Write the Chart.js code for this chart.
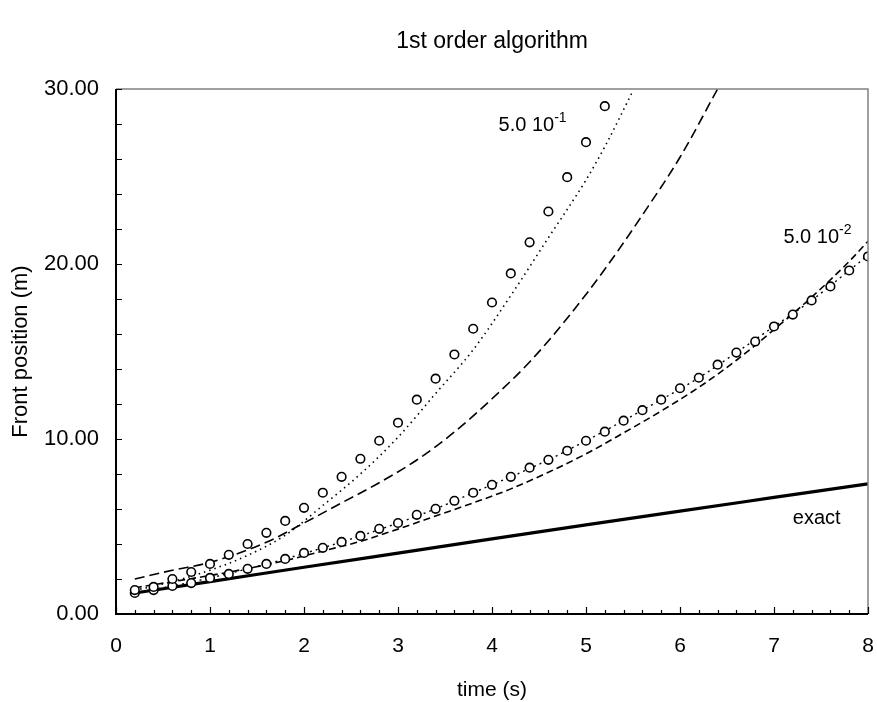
<!DOCTYPE html>
<html>
<head>
<meta charset="utf-8">
<script src="https://cdn.jsdelivr.net/npm/chart.js@4"></script>
<style>
  html, body { margin: 0; padding: 0; background: #fff; }
  #wrap { width: 877px; height: 702px; }
</style>
</head>
<body>
<div id="wrap"><canvas id="frontChart" width="877" height="702"></canvas></div>
<script>
// open circles, dt = 5.0 10^-1
const tCoarse = [0.2, 0.4, 0.6, 0.8, 1.0, 1.2, 1.4, 1.6, 1.8, 2.0, 2.2, 2.4, 2.6, 2.8, 3.0, 3.2, 3.4, 3.6, 3.8, 4.0, 4.2, 4.4, 4.6, 4.8, 5.0, 5.2];
const posCoarse = [1.37, 1.55, 2.0, 2.4, 2.86, 3.38, 4.0, 4.64, 5.32, 6.07, 6.93, 7.84, 8.87, 9.9, 10.93, 12.25, 13.45, 14.83, 16.3, 17.8, 19.46, 21.24, 23.0, 24.96, 26.96, 29.02];

// open circles, dt = 5.0 10^-2
const tFine = [0.2, 0.4, 0.6, 0.8, 1.0, 1.2, 1.4, 1.6, 1.8, 2.0, 2.2, 2.4, 2.6, 2.8, 3.0, 3.2, 3.4, 3.6, 3.8, 4.0,
               4.2, 4.4, 4.6, 4.8, 5.0, 5.2, 5.4, 5.6, 5.8, 6.0, 6.2, 6.4, 6.6, 6.8, 7.0, 7.2, 7.4, 7.6, 7.8, 8.0];
const posFine = [1.2, 1.37, 1.6, 1.77, 2.06, 2.29, 2.58, 2.86, 3.15, 3.49, 3.78, 4.12, 4.46, 4.87, 5.2, 5.67, 6.01, 6.47, 6.93, 7.38,
                 7.84, 8.36, 8.81, 9.33, 9.9, 10.42, 11.05, 11.65, 12.25, 12.9, 13.5, 14.25, 14.94, 15.57, 16.43, 17.11, 17.92, 18.72, 19.63, 20.43];

// dotted curve next to the coarse circles
const tDotCoarse = [0.2, 0.6, 1.0, 1.4, 1.8, 2.2, 2.6, 3.0, 3.4, 3.8, 4.2, 4.6, 5.0, 5.2, 5.5];
const dotCoarse = [1.35, 1.85, 2.5, 3.35, 4.5, 6.2, 8.0, 10.1, 12.6, 15.1, 18.2, 21.5, 24.8, 26.7, 29.9];

// long dashes
const tLongDash = [0.2, 0.6, 1.0, 1.6, 2.0, 2.4, 2.8, 3.2, 3.6, 4.0, 4.4, 4.8, 5.2, 5.6, 6.0, 6.4];
const longDash = [2.0, 2.5, 2.95, 4.1, 5.2, 6.35, 7.5, 8.8, 10.4, 12.3, 14.4, 16.9, 19.7, 22.8, 26.1, 30.0];

// dotted curve through the fine circles
const tDotFine = [0.2, 0.6, 1.0, 1.4, 1.8, 2.2, 2.6, 3.0, 3.4, 3.8, 4.2, 4.6, 5.0, 5.4, 5.8, 6.2, 6.6, 7.0, 7.4, 7.8, 8.0];
const dotFine = [1.22, 1.6, 2.06, 2.58, 3.15, 3.78, 4.46, 5.2, 6.01, 6.93, 7.84, 8.81, 9.9, 11.05, 12.25, 13.5, 14.94, 16.43, 17.92, 19.63, 20.5];

// short dashes
const tShortDash = [0.2, 0.6, 1.0, 1.4, 1.8, 2.2, 2.6, 3.0, 3.4, 3.8, 4.2, 4.6, 5.0, 5.4, 5.8, 6.2, 6.6, 7.0, 7.4, 7.8, 8.0];
const shortDash = [1.5, 1.85, 2.2, 2.6, 3.05, 3.6, 4.15, 4.85, 5.6, 6.35, 7.15, 8.1, 9.15, 10.35, 11.6, 12.95, 14.5, 16.25, 18.1, 20.15, 21.3];

// exact solution
const tExact = [0.2, 1, 2, 3, 4, 5, 6, 7, 8];
const exact = [1.2, 1.85, 2.67, 3.48, 4.29, 5.09, 5.88, 6.66, 7.44];

const xMin = 0, xMax = 8, xStep = 0.2;
const yMin = 0, yMax = 30, yStep = 2;

const FONT = "'Liberation Sans', Arial, sans-serif";

function pts(xs, ys) {
    return xs.map((x, i) => ({ x: x, y: ys[i] }));
}

function lineSet(xs, ys, width, dash) {
    return {
        type: 'line', data: pts(xs, ys), borderColor: '#000', borderWidth: width,
        borderDash: dash, pointRadius: 0, cubicInterpolationMode: 'monotone', fill: false, order: 2
    };
}

function circleSet(xs, ys) {
    return {
        type: 'scatter', data: pts(xs, ys), showLine: false, pointStyle: 'circle',
        pointRadius: 4.3, borderColor: '#000', backgroundColor: '#fff', pointBorderWidth: 1.6, order: 1
    };
}

const isWhole = v => Math.abs(v - Math.round(v)) < 1e-6;

const framePlugin = {
    id: 'frame',
    afterDraw(chart) {
        const { ctx, chartArea: a, scales: { x, y } } = chart;
        ctx.save();
        ctx.lineCap = 'butt';
        // top & right in grey, left & bottom black
        ctx.strokeStyle = '#808080';
        ctx.lineWidth = 1.5;
        ctx.beginPath();
        ctx.moveTo(a.left, a.top); ctx.lineTo(a.right, a.top); ctx.lineTo(a.right, a.bottom);
        ctx.stroke();
        ctx.strokeStyle = '#000';
        ctx.lineWidth = 2;
        ctx.beginPath();
        ctx.moveTo(a.left, a.top); ctx.lineTo(a.left, a.bottom); ctx.lineTo(a.right, a.bottom);
        ctx.stroke();

        // inward ticks
        ctx.lineWidth = 1.2;
        ctx.beginPath();
        x.ticks.forEach(t => {
            const px = Math.round(x.getPixelForValue(t.value)) + 0.5;
            const len = isWhole(t.value) ? 7 : 4;
            ctx.moveTo(px, a.bottom); ctx.lineTo(px, a.bottom - len);
        });
        y.ticks.forEach(t => {
            const py = Math.round(y.getPixelForValue(t.value)) + 0.5;
            ctx.moveTo(a.left, py); ctx.lineTo(a.left + 6, py);
        });
        ctx.stroke();

        // title
        ctx.fillStyle = '#000';
        ctx.textAlign = 'center';
        ctx.textBaseline = 'middle';
        ctx.font = '23px ' + FONT;
        ctx.fillText('1st order algorithm', (a.left + a.right) / 2, 42);

        // curve labels
        ctx.textAlign = 'left';
        ctx.textBaseline = 'alphabetic';
        const label = (txt, sup, tx, ty) => {
            const px = x.getPixelForValue(tx), py = y.getPixelForValue(ty);
            ctx.font = '20px ' + FONT;
            ctx.fillText(txt, px, py);
            const w = ctx.measureText(txt).width;
            if (sup) {
                ctx.font = '14px ' + FONT;
                ctx.fillText(sup, px + w, py - 9);
            }
        };
        label('5.0 10', '-1', 4.07, 27.6);
        label('5.0 10', '-2', 7.1, 21.2);
        label('exact', null, 7.2, 5.15);
        ctx.restore();
    }
};

new Chart(document.getElementById('frontChart'), {
    type: 'scatter',
    data: {
        datasets: [
            circleSet(tCoarse, posCoarse),
            circleSet(tFine, posFine),
            lineSet(tDotCoarse, dotCoarse, 1.6, [1.5, 4]),
            lineSet(tLongDash, longDash, 1.6, [10, 5]),
            lineSet(tDotFine, dotFine, 1.4, [2, 4]),
            lineSet(tShortDash, shortDash, 1.6, [7, 4]),
            lineSet(tExact, exact, 3.2, [])
        ]
    },
    options: {
        responsive: false,
        animation: false,
        layout: { padding: { top: 89, right: 9, left: 0, bottom: 0 } },
        plugins: { legend: { display: false }, title: { display: false }, tooltip: { enabled: false } },
        scales: {
            x: {
                type: 'linear', min: xMin, max: xMax,
                afterFit: s => { s.height = 88; s.paddingLeft = 0; s.paddingRight = 0; },
                grid: { display: false, drawTicks: false },
                border: { display: false },
                ticks: {
                    stepSize: xStep, autoSkip: false, maxRotation: 0, padding: 20,
                    color: '#000', font: { family: FONT, size: 21 },
                    callback: v => isWhole(v) ? String(Math.round(v)) : ''
                },
                title: { display: true, text: 'time (s)', color: '#000', font: { family: FONT, size: 21 }, padding: { top: 0, bottom: -1 } }
            },
            y: {
                type: 'linear', min: yMin, max: yMax,
                afterFit: s => { s.width = 116; s.paddingTop = 0; s.paddingBottom = 0; },
                grid: { display: false, drawTicks: false },
                border: { display: false },
                ticks: {
                    stepSize: yStep, autoSkip: false, padding: 17,
                    color: '#000', font: { family: FONT, size: 22 },
                    callback: v => (Math.round(v) % 10 === 0) ? Number(v).toFixed(2) : ''
                },
                title: { display: true, text: 'Front position (m)', color: '#000', font: { family: FONT, size: 22 }, padding: { top: 8, bottom: 0 } }
            }
        }
    },
    plugins: [framePlugin]
});
</script>
</body>
</html>
